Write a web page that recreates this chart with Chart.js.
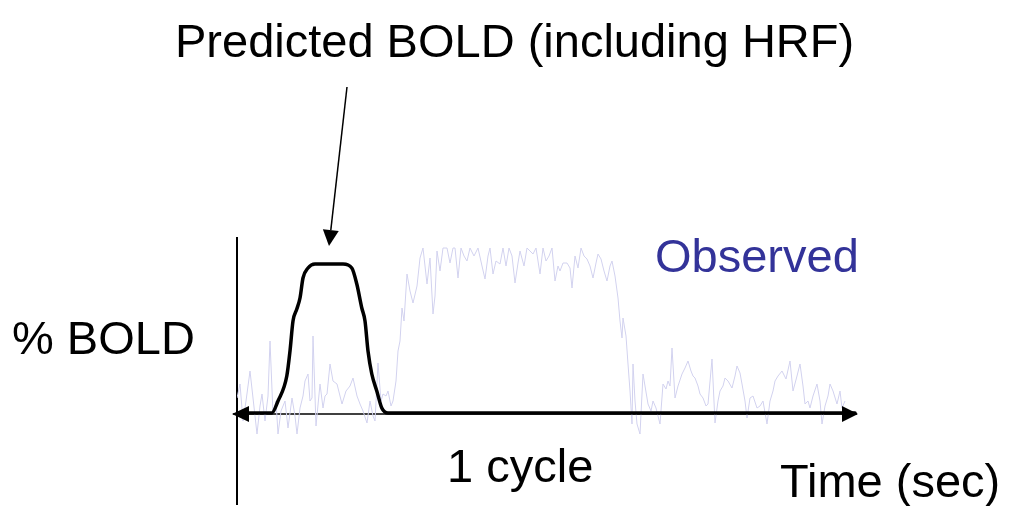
<!DOCTYPE html>
<html><head><meta charset="utf-8">
<script src="https://cdn.jsdelivr.net/npm/chart.js@4"></script>
<style>
html,body{margin:0;padding:0;background:#fff;}
#wrap{position:relative;width:1010px;height:506px;overflow:hidden;background:#fff;}
canvas{position:absolute;left:0;top:0;}
.lbl{position:absolute;font-family:"Liberation Sans",Arial,sans-serif;font-size:47px;line-height:47px;white-space:nowrap;color:#000;}
</style></head><body>
<div id="wrap">
<canvas id="c" width="1010" height="506"></canvas>
<div class="lbl" style="left:175px;top:17px">Predicted BOLD (including HRF)</div>
<div class="lbl" style="left:655px;top:232px;color:#333399">Observed</div>
<div class="lbl" style="left:12px;top:314px">% BOLD</div>
<div class="lbl" style="left:447px;top:442px">1 cycle</div>
<div class="lbl" style="left:780px;top:457px">Time (sec)</div>
</div>
<script>
// Time axis (seconds) and % BOLD values
const predTime = [0, 17.4, 20.5, 24.9, 26.5, 28, 29.9, 31.5, 33, 35.5, 39, 53, 57.4, 59.9, 62.4, 64, 65.5, 67.4, 69.9, 72.4, 75.5, 309];
const predBold = [0, 0, 0.12, 0.37, 0.62, 0.92, 1.04, 1.15, 1.35, 1.45, 1.49, 1.49, 1.45, 1.29, 1.05, 0.92, 0.62, 0.39, 0.22, 0.05, 0, 0];

const obsTime = [0,1.5,3,4.5,6.5,8,10,11.5,12.5,14,15.5,16.5,18,19.5,20.5,22,24,25.5,27.5,29,30,31.5,33,34,35.5,36.5,37.5,38,39.5,41.5,43,44,45,46.5,48,50,51.5,52.5,54.5,56.5,58,60,61.5,63,65,66.5,68,69,70.5,72,73,74.5,75.5,77,78,79.5,80.5,81.5,82.5,83.5,85,86.5,88,90,91.5,93,94,95,96.5,98,99,100,101.5,103,105,106.5,108,109,110.5,112,113.5,115,116.5,118.5,120.5,122.5,124,125.5,126.5,128,129.5,131.5,133,134.5,136,137.5,139,140.5,141.5,143.5,145,146.5,148,149.5,151.5,153,154.5,156,157.5,159,160.5,161.5,163,165,166.5,167.5,169,170.5,172,173.5,175,176.5,178,179.5,180.5,182,183.5,185,186.5,187.5,189,190.5,191.5,192.5,193,194.5,195.5,196.5,197.5,198,199,200,201.5,203,204,205.5,207,208,209.5,211.5,213,214.5,215.5,216.5,217.5,219,220.5,222.5,224,225.5,227,228,229,230.5,231.5,233,234.5,235.5,237.5,239,240.5,241.5,243,244,245.5,247.5,249,250,251.5,252.5,254,255,256.5,258,260,261.5,263,265,266.5,268,269,270.5,272.5,274.5,276.5,278,280,281.5,283,284,285.5,286.5,288,290,291.5,292.5,294,295.5,296.5,298,300,301.5,302.5,304];
const obsBold = [0.15,0.29,-0.08,0.12,0.42,0.15,-0.21,0.07,0.19,-0.08,0.17,0.72,-0.01,0.12,-0.21,0.02,0.12,-0.15,0.15,-0.03,-0.21,0.05,0.17,0.32,0.39,0.12,0.15,0.77,-0.13,0.29,0.05,0.17,0.19,0.49,0.32,0.29,0.17,0.09,0.22,0.27,0.35,0.17,0.09,0.02,-0.10,0.12,-0.03,-0.08,0.50,0.12,0.19,0.17,0.22,0.07,0.12,0.32,0.62,0.72,1.05,0.92,1.39,1.22,1.10,1.27,1.55,1.65,1.47,1.29,1.55,0.99,1.17,1.62,1.42,1.65,1.65,1.50,1.65,1.65,1.35,1.65,1.57,1.52,1.65,1.57,1.65,1.47,1.34,1.57,1.65,1.39,1.52,1.49,1.65,1.47,1.65,1.57,1.30,1.50,1.62,1.47,1.65,1.62,1.59,1.65,1.39,1.65,1.52,1.57,1.65,1.32,1.47,1.42,1.50,1.50,1.45,1.25,1.57,1.45,1.65,1.57,1.54,1.47,1.35,1.50,1.59,1.54,1.42,1.32,1.47,1.52,1.37,1.15,0.92,0.75,0.95,0.77,0.49,0.22,-0.11,0.49,0.12,-0.11,-0.21,0.39,0.27,0.09,0.02,0.12,0.05,-0.11,0.29,0.24,0.32,0.27,0.65,0.15,0.27,0.39,0.45,0.52,0.42,0.37,0.35,0.27,0.19,0.15,0.07,0.09,0.54,-0.10,0.12,0.22,0.27,0.35,0.32,0.25,0.37,0.47,0.40,0.29,0.12,-0.05,0.15,0.17,0.05,0.07,0.12,-0.11,0.12,0.22,0.32,0.37,0.42,0.34,0.52,0.22,0.37,0.49,0.27,0.09,0.12,0.05,0.17,0.29,0.12,-0.11,0.07,0.17,0.29,0.22,0.09,0.22,0.05,0.12];

const toXY = (xs, ys) => xs.map((x, i) => ({x: x, y: ys[i]}));

const decor = {
  id: 'decor',
  beforeDatasetsDraw(chart) {
    const ctx = chart.ctx, xs = chart.scales.x, ys = chart.scales.y, a = chart.chartArea;
    const x0 = xs.getPixelForValue(0), y0 = ys.getPixelForValue(0) + 1;
    ctx.save();
    ctx.strokeStyle = '#000';
    ctx.lineWidth = 2;
    ctx.beginPath(); ctx.moveTo(x0, a.top); ctx.lineTo(x0, a.bottom); ctx.stroke();
    ctx.lineWidth = 1.5;
    ctx.beginPath(); ctx.moveTo(x0 - 4, y0); ctx.lineTo(a.right, y0); ctx.stroke();
    ctx.restore();
  },
  afterDatasetsDraw(chart) {
    const ctx = chart.ctx, xs = chart.scales.x, ys = chart.scales.y, a = chart.chartArea;
    const x0 = xs.getPixelForValue(0), y0 = ys.getPixelForValue(0) + 1;
    ctx.save();
    ctx.fillStyle = '#000';
    // left arrowhead
    ctx.beginPath(); ctx.moveTo(x0 - 5, y0); ctx.lineTo(x0 + 12, y0 - 8); ctx.lineTo(x0 + 12, y0 + 8); ctx.closePath(); ctx.fill();
    // right arrowhead
    ctx.beginPath(); ctx.moveTo(a.right + 1, y0); ctx.lineTo(a.right - 15, y0 - 8); ctx.lineTo(a.right - 15, y0 + 8); ctx.closePath(); ctx.fill();
    // pointer from title to predicted peak
    const peakX = xs.getPixelForValue((predTime[10] + predTime[11]) / 2);
    const peakY = ys.getPixelForValue(predBold[10]) - 18;
    const sx = 347, sy = 87;
    const ang = Math.atan2(peakY - sy, peakX - sx);
    const L = 16, W = 8;
    const bx = peakX - L * Math.cos(ang), by = peakY - L * Math.sin(ang);
    ctx.strokeStyle = '#000'; ctx.lineWidth = 1.5;
    ctx.beginPath(); ctx.moveTo(sx, sy); ctx.lineTo(bx, by); ctx.stroke();
    ctx.beginPath();
    ctx.moveTo(peakX, peakY);
    ctx.lineTo(bx + W * Math.sin(ang), by - W * Math.cos(ang));
    ctx.lineTo(bx - W * Math.sin(ang), by + W * Math.cos(ang));
    ctx.closePath(); ctx.fill();
    ctx.restore();
  }
};

new Chart(document.getElementById('c'), {
  type: 'line',
  data: {
    datasets: [
      {label: 'Predicted', data: toXY(predTime, predBold), borderColor: '#000', borderWidth: 3.5, pointRadius: 0,
       cubicInterpolationMode: 'monotone', borderJoinStyle: 'round', borderCapStyle: 'round', order: 0},
      {label: 'Observed', data: toXY(obsTime, obsBold), borderColor: '#d2d2ef', borderWidth: 1, pointRadius: 0,
       tension: 0, order: 1}
    ]
  },
  options: {
    responsive: false,
    animation: false,
    devicePixelRatio: 1,
    layout: {padding: {left: 237, right: 153, top: 237, bottom: 1}},
    plugins: {legend: {display: false}, tooltip: {enabled: false}, title: {display: false}},
    scales: {
      x: {type: 'linear', min: 0, max: 310, display: false},
      y: {type: 'linear', min: -0.92, max: 1.76, display: false}
    }
  },
  plugins: [decor]
});
</script>
</body></html>
